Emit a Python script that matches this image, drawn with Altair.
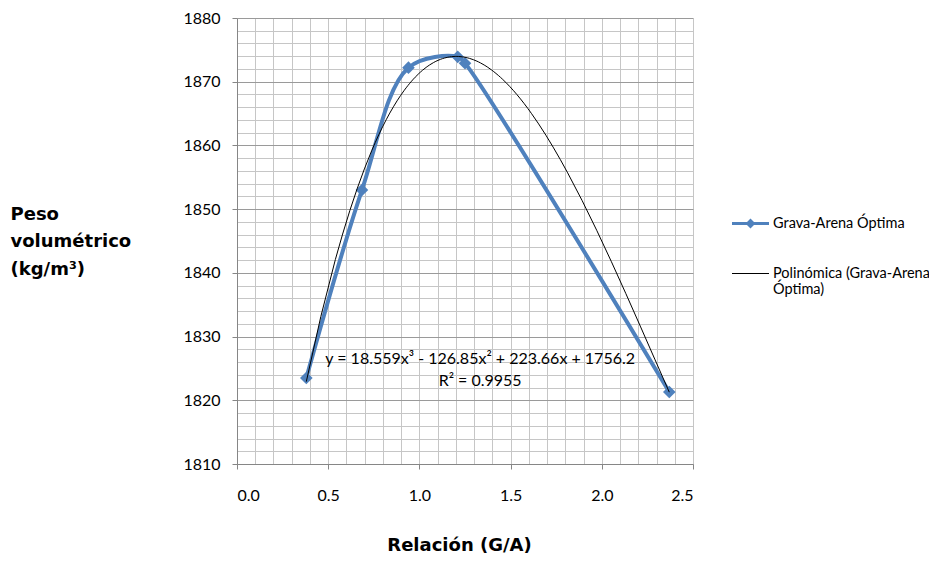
import altair as alt
import pandas as pd

# ---- data ----
ratio = [0.38, 0.685, 0.94, 1.21, 1.25, 2.37]
weight = [1823.5, 1853.0, 1872.2, 1873.9, 1872.9, 1821.3]
series_names = ["Grava-Arena Óptima", "Polinómica (Grava-Arena Óptima)"]
series_colors = ["#4F81BD", "#000000"]
x_ticks = [round(i * 0.1, 1) for i in range(26)]
y_ticks = list(range(1810, 1881, 2))
equation_lines = ["y = 18.559x³ - 126.85x² + 223.66x + 1756.2", "R² = 0.9955"]
equation_anchor_x = [1.333]
equation_anchor_y = [1827.7]

obs = pd.DataFrame({"x": ratio, "y": weight, "series": series_names[0]})
eq_df = pd.DataFrame({"x": equation_anchor_x, "y": equation_anchor_y})

BLUE = series_colors[0]
AXIS_GRAY = "#868686"
MINOR = "#C6C6C6"
MAJOR = "#9A9A9A"
FONT = "Lato"
TFONT = "DejaVu Sans"

x_major = "abs(datum.value * 2 - round(datum.value * 2)) < 0.001"
y_major = "abs(datum.value % 10) < 0.001"

x_enc = alt.X(
    "x:Q",
    scale=alt.Scale(domain=[0, 2.5], nice=False, zero=False),
    axis=alt.Axis(
        values=x_ticks,
        tickCount=len(x_ticks),
        format=".1f",
        grid=True,
        gridColor=MINOR,
        gridWidth=1,
        domainColor=AXIS_GRAY,
        tickColor=AXIS_GRAY,
        tickSize=5,
        tickOpacity={"condition": {"test": x_major, "value": 1}, "value": 0},
        labelExpr=f"({x_major}) ? datum.label : ''",
        labelFont=FONT,
        labelFontSize=16,
        labelColor="#000000",
        labelPadding=18,
        labelOverlap=False,
        title="Relación (G/A)",
        titleFont=TFONT,
        titleFontSize=18,
        titleFontWeight="bold",
        titleColor="#000000",
        titleX=222,
        titleY=81,
        titleAlign="center",
        titleBaseline="middle",
    ),
)

y_enc = alt.Y(
    "y:Q",
    scale=alt.Scale(domain=[1810, 1880], nice=False, zero=False),
    axis=alt.Axis(
        values=y_ticks,
        tickCount=len(y_ticks),
        format="d",
        grid=True,
        gridColor={"condition": {"test": y_major, "value": MAJOR}, "value": MINOR},
        gridWidth=1,
        domainColor=AXIS_GRAY,
        tickColor=AXIS_GRAY,
        tickSize=5,
        tickOpacity={"condition": {"test": y_major, "value": 1}, "value": 0},
        labelExpr=f"({y_major}) ? datum.label : ''",
        labelFont=FONT,
        labelFontSize=16,
        labelColor="#000000",
        labelPadding=12,
        labelOverlap=False,
        title=["Peso", "volumétrico", "(kg/m³)"],
        titleFont=TFONT,
        titleFontSize=18,
        titleFontWeight="bold",
        titleColor="#000000",
        titleAngle=0,
        titleAlign="left",
        titleBaseline="top",
        titleX=-227,
        titleY=187,
        titleLineHeight=27.5,
    ),
)

base = alt.Chart(obs)

blue_line = base.mark_line(interpolate="catmull-rom", color=BLUE, strokeWidth=4).encode(
    x=x_enc, y=y_enc
)

diamonds = base.mark_point(shape="diamond", filled=True, size=160, color=BLUE, opacity=1).encode(
    x="x:Q", y="y:Q"
)

trend = base.transform_regression("x", "y", method="poly", order=3).mark_line(
    color="#000000", strokeWidth=1
).encode(x="x:Q", y="y:Q")

eq_text = alt.Chart(eq_df).mark_text(
    align="center", baseline="top", font=FONT, fontSize=16, color="#000000", lineHeight=22
).encode(x="x:Q", y="y:Q", text=alt.value(equation_lines))

path_series = "M-1,-0.085H1V0.085H-1Z M0,-0.27L0.27,0L0,0.27L-0.27,0Z"
path_trend = "M-1,-0.03H1V0.03H-1Z"

legend_common = dict(
    orient="none",
    legendX=495,
    legendY=187,
    padding=0,
    symbolSize=1369,
    symbolOpacity=1,
    symbolStrokeWidth=0,
    labelFont=FONT,
    labelFontSize=14.5,
    labelColor="#000000",
    labelOffset=4,
    labelLimit=400,
    rowPadding=25,
    labelExpr="datum.label == 'Polinómica (Grava-Arena Óptima)' ? ['Polinómica (Grava-Arena', 'Óptima)'] : datum.label",
)

legend_layer = base.mark_point(filled=True, opacity=0).encode(
    x="x:Q",
    y="y:Q",
    color=alt.Color(
        "series:N",
        scale=alt.Scale(domain=series_names, range=series_colors),
        legend=alt.Legend(**legend_common),
        title=None,
    ),
    shape=alt.Shape(
        "series:N",
        scale=alt.Scale(domain=series_names, range=[path_series, path_trend]),
        legend=alt.Legend(**legend_common),
        title=None,
    ),
)

chart = (
    alt.layer(blue_line, diamonds, trend, eq_text, legend_layer)
    .properties(
        width=456,
        height=446,
        autosize=alt.AutoSizeParams(type="none"),
        padding={"left": 229, "top": 10, "right": 236, "bottom": 93},
        background="#FFFFFF",
    )
    .configure_view(strokeWidth=0)
)

chart.save("out.html", embed_options={"renderer": "svg", "actions": False})
